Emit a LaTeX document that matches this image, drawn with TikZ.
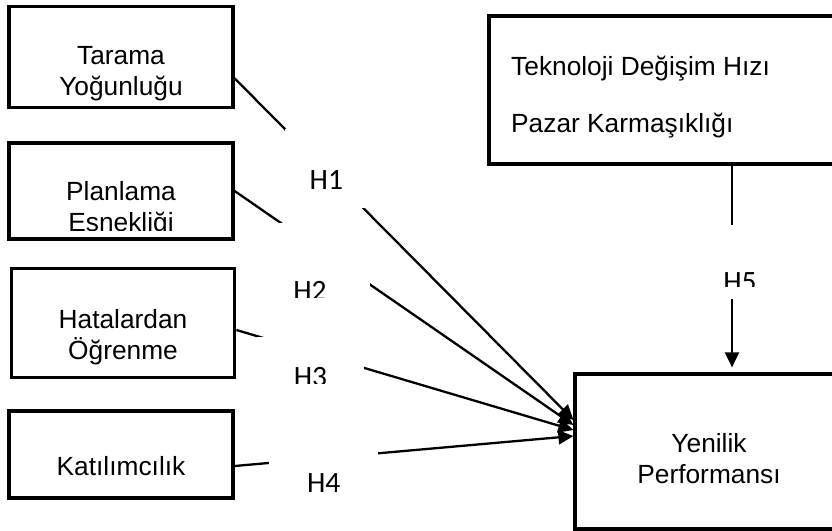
\documentclass[tikz,border=0pt]{standalone}
\usepackage{fontspec}
\setmainfont{Liberation Sans}
\newfontfamily\hypfont{Carlito}
\usetikzlibrary{arrows.meta,positioning}

\begin{document}
\begin{tikzpicture}[
  x=1pt, y=-1pt,
  box/.style={rectangle, draw=black, line width=3.2pt, inner sep=0pt},
  txt/.style={align=center, inner sep=0pt, font=\fontsize{26.3}{31}\selectfont},
  hyp/.style={fill=white, inner sep=0pt, anchor=base,
    font=\hypfont\fontsize{29.5}{34}\selectfont},
  arr/.style={-{Triangle[length=15pt,width=14pt]}, line width=2.3pt, color=black}
]
\useasboundingbox (0,0) rectangle (832,530);
\node[box, minimum width=224pt, minimum height=101pt] (tarama)   at (121,57.3) {};
\node[box, minimum width=224pt, minimum height=96pt]  (planlama) at (121,191) {};
\node[box, minimum width=223pt, minimum height=109pt] (hata)     at (123.3,323) {};
\node[box, minimum width=224pt, minimum height=87pt]  (katilim)  at (121,454.5) {};
\node[box, minimum width=411pt, minimum height=148pt] (tekno)    at (694.5,90) {};
\node[box, minimum width=314pt, minimum height=155pt] (yenilik)  at (732,451.5) {};
\node[txt] (tarama-t)   at (121,74)    {Tarama\\Yoğunluğu};
\begin{scope}
  \clip (10,150) rectangle (232,230.5);
  \node[txt] (planlama-t) at (121,208.9) {Planlama\\Esnekliği};
\end{scope}
\node[txt] (hata-t)     at (123,337.2) {Hatalardan\\Öğrenme};
\node[txt] (katilim-t)  at (121,465.6) {Katılımcılık};
\node[txt, align=left, anchor=west] (tekno-t) at (511,96.7)
  {Teknoloji Değişim Hızı\\[26pt]Pazar Karmaşıklığı};
\node[txt] (yenilik-t)  at (709,458.5) {Yenilik\\Performansı};
\draw[arr] ([yshift=-21pt]tarama.east) -- ([yshift=31.5pt]yenilik.west);
\draw[arr] (planlama.east) -- ([yshift=26.5pt]yenilik.west);
\draw[arr] ([yshift=-7pt]hata.east) -- ([yshift=21.5pt]yenilik.west);
\draw[arr] ([yshift=-11.5pt]katilim.east) -- ([yshift=15.5pt]yenilik.west);
\draw[arr] (tekno.south -| yenilik.north) -- ([yshift=5pt]yenilik.north);
\node[hyp, minimum width=82.6pt, text height=60pt, text depth=18.7pt] (h1) at (326.3,189) {H1};
\begin{scope}
  \clip (250,223) rectangle (370,297.3);
  \node[hyp, minimum width=120pt, text height=77.7pt, text depth=0pt] (h2) at (310,300.7) {H2};
\end{scope}
\begin{scope}
  \clip (257,337) rectangle (364,383.8);
  \node[hyp, minimum width=107pt, text height=49pt, text depth=0pt] (h3) at (310.5,386) {H3};
\end{scope}
\node[hyp, minimum width=109.4pt, text height=42pt, text depth=6pt] (h4) at (323.7,492) {H4};
\node[hyp, minimum width=40pt, text height=66pt, text depth=8pt] (h5) at (740,291) {H5};
\fill[white] (720,286.7) rectangle (760,299);
\end{tikzpicture}
\end{document}
